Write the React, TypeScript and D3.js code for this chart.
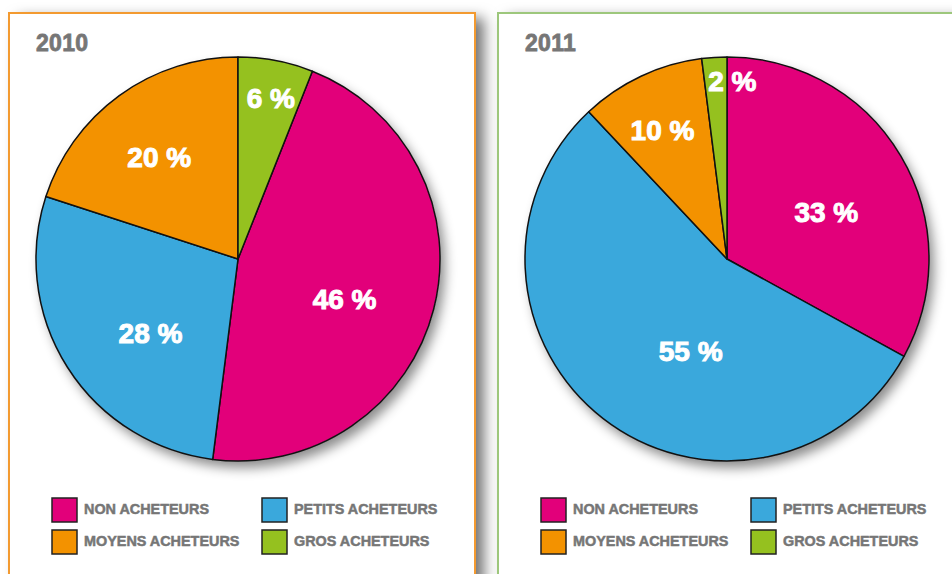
import React from "react";
import * as d3 from "d3";

// ---- data ----
const categories = ["NON ACHETEURS", "PETITS ACHETEURS", "MOYENS ACHETEURS", "GROS ACHETEURS"];
const years = ["2010", "2011"];
const values2010 = [46, 28, 20, 6];
const values2011 = [33, 55, 10, 2];
const seriesByYear = [values2010, values2011];
const sliceColors = ["#e2007a", "#3aa8dc", "#f39200", "#95c11f"];
const panelBorders = ["#f39a30", "#9dc77c"];

// ---- layout ----
const W = 952;
const H = 574;
const PANEL_STEP = 489;
const PANEL_X0 = 9;
const PANEL_Y = 13;
const PANEL_W = 466;
const PIE_CX = 229; // relative to panel x
const PIE_CY = 259;
const PIE_R = 202;
// 2010 pie is rotated so that the last slice starts at 12 o'clock
const rotations = [values2010[3] / 100, 0];
const labelNudge = [
  [[-3, 12], [8, 13], [2, 9], [1, 6]],
  [[2, 11], [33, 3], [-6, -5], [16, -9]],
];
const labelFactor = (v: number) => (v >= 25 ? 0.56 : v >= 10 ? 0.68 : 0.84);

const FONT = "'Liberation Sans', Arial, sans-serif";
const NARROW = "'Liberation Sans Narrow', 'Liberation Sans', Arial, sans-serif";
const GREY = "#767676";

function Panel({ idx }: { idx: number }) {
  const px = PANEL_X0 + idx * PANEL_STEP;
  const values = seriesByYear[idx];
  const rot = rotations[idx] * 2 * Math.PI;
  const pie = d3
    .pie<number>()
    .sort(null)
    .value((d) => d)
    .startAngle(rot)
    .endAngle(rot + 2 * Math.PI);
  const arcs = pie(values);
  const arcGen = d3.arc<d3.PieArcDatum<number>>().innerRadius(0).outerRadius(PIE_R);
  const cx = px + PIE_CX;
  const cy = PIE_CY;

  return (
    <g>
      <rect x={px} y={PANEL_Y} width={PANEL_W} height={700} fill="#fff" filter="url(#panelShadow)" />
      <rect x={px} y={PANEL_Y} width={PANEL_W} height={700} fill="#fff" stroke={panelBorders[idx]} strokeWidth={2} />
      <text
        x={px + 27}
        y={51}
        fontFamily={FONT}
        fontWeight={700}
        fontSize={23}
        fill={GREY}
        stroke={GREY}
        strokeWidth={0.8}
        letterSpacing={0.3}
      >
        {years[idx]}
      </text>
      <g transform={`translate(${cx},${cy})`}>
        <circle r={PIE_R} fill="#fff" filter="url(#pieShadow)" />
        {arcs.map((a, i) => (
          <path key={i} d={arcGen(a) || ""} fill={sliceColors[i]} stroke="#111" strokeWidth={1.5} strokeLinejoin="round" />
        ))}
        {arcs.map((a, i) => {
          const mid = (a.startAngle + a.endAngle) / 2;
          const lr = PIE_R * labelFactor(a.data);
          const x = lr * Math.sin(mid) + labelNudge[idx][i][0];
          const y = -lr * Math.cos(mid) + labelNudge[idx][i][1];
          return (
            <text
              key={"l" + i}
              x={x}
              y={y + 10}
              textAnchor="middle"
              fontFamily={FONT}
              fontWeight={700}
              fontSize={28}
              fill="#fff"
              stroke="#fff"
              strokeWidth={1}
            >
              {`${a.data} %`}
            </text>
          );
        })}
      </g>
      {categories.map((c, i) => {
        const col = i % 2;
        const row = Math.floor(i / 2);
        const sx = px + 43 + col * 210;
        const sy = 498 + row * 32;
        return (
          <g key={c}>
            <rect x={sx} y={sy} width={25} height={24} fill={sliceColors[i]} stroke="#222" strokeWidth={1.5} />
            <text
              x={sx + 32}
              y={sy + 16}
              fontFamily={NARROW}
              fontWeight={700}
              fontSize={14.4}
              fill={GREY}
              stroke={GREY}
              strokeWidth={0.5}
            >
              {c}
            </text>
          </g>
        );
      })}
    </g>
  );
}

export default function App() {
  return (
    <svg
      width={W}
      height={H}
      style={{ position: "absolute", left: 0, top: 0, background: "#fff" }}
    >
      <defs>
        <filter id="panelShadow" x="-10%" y="-10%" width="130%" height="130%">
          <feDropShadow dx={9} dy={5} stdDeviation={7} floodColor="#000" floodOpacity={0.55} />
        </filter>
        <filter id="pieShadow" x="-20%" y="-20%" width="140%" height="140%">
          <feDropShadow dx={5} dy={7} stdDeviation={6} floodColor="#000" floodOpacity={0.45} />
        </filter>
      </defs>
      <rect x={0} y={0} width={W} height={H} fill="#fff" />
      {years.map((y, i) => (
        <Panel key={y} idx={i} />
      ))}
    </svg>
  );
}
